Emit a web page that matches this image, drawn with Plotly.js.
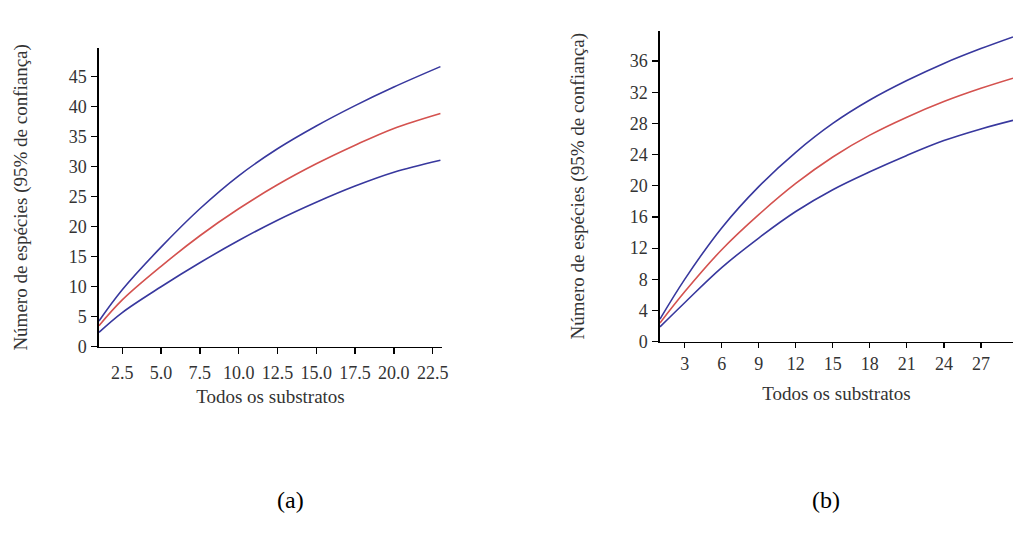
<!DOCTYPE html>
<html>
<head>
<meta charset="utf-8">
<script src="https://cdn.plot.ly/plotly-3.0.1.min.js"></script>
<style>html,body{margin:0;padding:0;background:#fff;}#chart{width:1013px;height:546px;}</style>
</head>
<body>
<div id="chart"></div>
<script>
// Panel (a)
const xA = [1, 2.5, 5, 7.5, 10, 12.5, 15, 17.5, 20, 23];
const upperA = [4.3, 9.5, 16.6, 23.0, 28.5, 33.0, 36.8, 40.2, 43.3, 46.7];
const meanA  = [3.5, 7.8, 13.4, 18.5, 23.0, 27.0, 30.5, 33.6, 36.4, 38.9];
const lowerA = [2.4, 5.7, 10.0, 14.0, 17.7, 21.1, 24.1, 26.8, 29.1, 31.1];
const yTicksA = [0, 5, 10, 15, 20, 25, 30, 35, 40, 45];
const xTicksA = [2.5, 5, 7.5, 10, 12.5, 15, 17.5, 20, 22.5];

// Panel (b)
const xB = [1, 3, 6, 9, 12, 15, 18, 21, 24, 27, 29.6];
const upperB = [2.9, 8.0, 14.6, 19.9, 24.3, 28.0, 31.0, 33.5, 35.7, 37.6, 39.1];
const meanB  = [2.4, 6.4, 11.8, 16.3, 20.3, 23.7, 26.5, 28.8, 30.8, 32.5, 33.8];
const lowerB = [1.9, 5.0, 9.5, 13.3, 16.7, 19.5, 21.8, 23.9, 25.8, 27.3, 28.4];
const yTicksB = [0, 4, 8, 12, 16, 20, 24, 28, 32, 36];
const xTicksB = [3, 6, 9, 12, 15, 18, 21, 24, 27];

const panelLabels = ['(a)', '(b)'];
const xTitle = 'Todos os substratos';
const yTitle = 'Número de espécies (95% de confiança)';

const BLUE = '#38389e';
const RED = '#d4524f';
const FONT = "'Liberation Serif', 'Times New Roman', serif";

function tr(x, y, color, xa, ya) {
  return {x: x, y: y, type: 'scatter', mode: 'lines', xaxis: xa, yaxis: ya,
    line: {color: color, width: 1.6, shape: 'spline', smoothing: 1.0}, hoverinfo: 'x+y', showlegend: false};
}

const data = [
  tr(xA, upperA, BLUE, 'x', 'y'),
  tr(xA, meanA, RED, 'x', 'y'),
  tr(xA, lowerA, BLUE, 'x', 'y'),
  tr(xB, upperB, BLUE, 'x2', 'y2'),
  tr(xB, meanB, RED, 'x2', 'y2'),
  tr(xB, lowerB, BLUE, 'x2', 'y2')
];

const axBase = {
  showgrid: false, zeroline: false, showline: true, linecolor: '#000', linewidth: 1.5,
  ticks: 'outside', ticklen: 6, tickwidth: 1.3, tickcolor: '#000',
  tickfont: {family: FONT, size: 18, color: '#333'}
};
const titleFont = {family: FONT, size: 19, color: '#333'};

const layout = {
  width: 1013, height: 546,
  margin: {l: 0, r: 0, t: 0, b: 0},
  paper_bgcolor: '#fff', plot_bgcolor: '#fff',
  font: {family: FONT, color: '#333'},
  xaxis: Object.assign({}, axBase, {
    domain: [0.0977, 0.4363], range: [1, 23.1], anchor: 'y',
    tickvals: xTicksA, tickformat: '.1f', ticklabelstandoff: 3,
    title: {text: xTitle, font: titleFont, standoff: 8}
  }),
  yaxis: Object.assign({}, axBase, {
    domain: [0.365, 0.912], range: [0, 49.8], anchor: 'x',
    tickvals: yTicksA, ticklabelstandoff: 1,
    title: {text: yTitle, font: titleFont, standoff: 36}
  }),
  xaxis2: Object.assign({}, axBase, {
    domain: [0.6515, 1.0], range: [1, 29.6], anchor: 'y2',
    tickvals: xTicksB, ticklen: 5,
    title: {text: xTitle, font: titleFont, standoff: 14}
  }),
  yaxis2: Object.assign({}, axBase, {
    domain: [0.3742, 0.9438], range: [0, 39.9], anchor: 'x2',
    tickvals: yTicksB, ticklabelstandoff: 1,
    title: {text: yTitle, font: titleFont, standoff: 40}
  }),
  annotations: [
    {text: panelLabels[0], xref: 'paper', yref: 'paper', x: 290 / 1013, y: 1 - 500 / 546,
     xanchor: 'center', yanchor: 'middle',
     showarrow: false, font: {family: FONT, size: 24, color: '#000'}},
    {text: panelLabels[1], xref: 'paper', yref: 'paper', x: 826 / 1013, y: 1 - 500 / 546,
     xanchor: 'center', yanchor: 'middle',
     showarrow: false, font: {family: FONT, size: 24, color: '#000'}}
  ]
};

Plotly.newPlot('chart', data, layout, {displayModeBar: false, staticPlot: true});
</script>
</body>
</html>
